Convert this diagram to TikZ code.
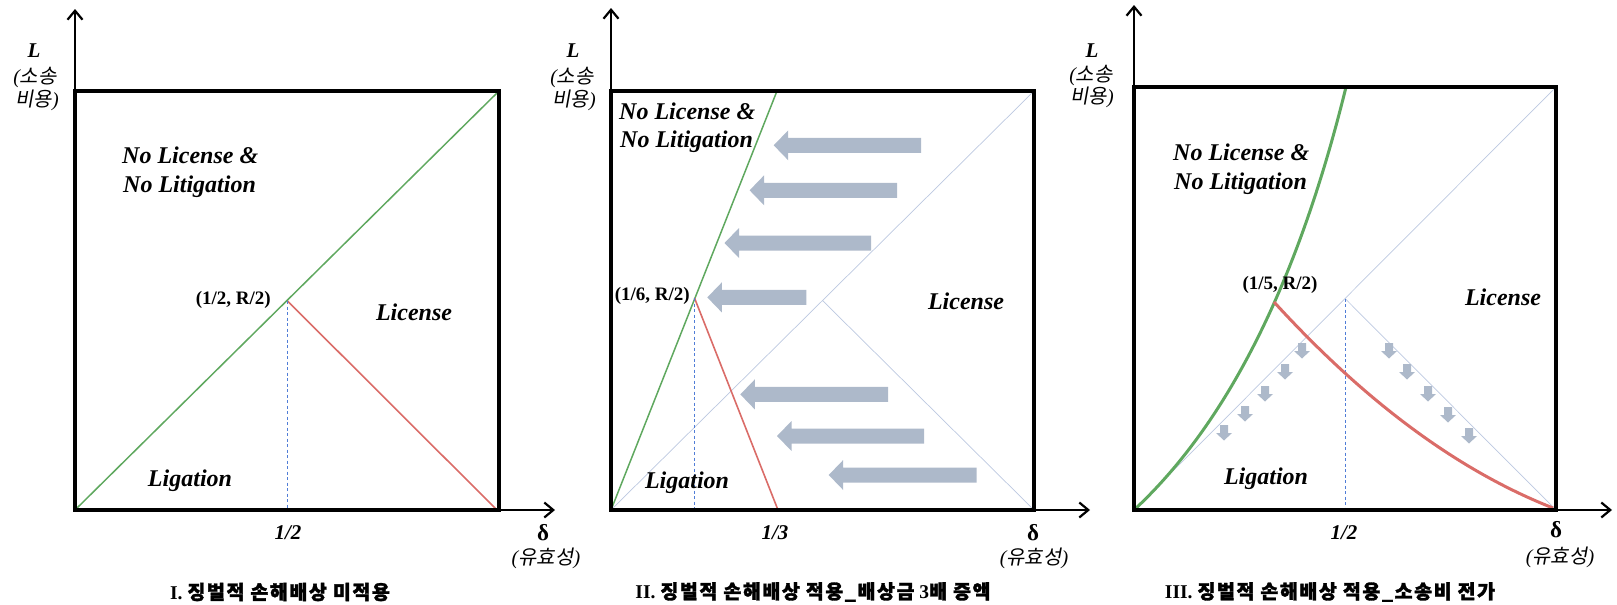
\documentclass[tikz,border=0pt]{standalone}
\usepackage{fontspec}
\setmainfont{Liberation Serif}
\newfontfamily\kr[FakeBold=1.6,LetterSpace=8]{Noto Sans CJK KR}
\newfontfamily\krsl[FakeSlant=0.18]{Noto Sans CJK KR}
\usetikzlibrary{arrows.meta}
\definecolor{lgreen}{RGB}{95,168,95}
\definecolor{lred}{RGB}{218,108,104}
\definecolor{dblue}{RGB}{80,125,215}
\definecolor{faintc}{RGB}{188,200,224}
\definecolor{agray}{RGB}{173,185,202}
\newcommand\lar[3]{\fill[afill] (#1,#2) -- (#1+14.5,#2-15) -- (#1+14.5,#2-7.5) -- (#3,#2-7.5) -- (#3,#2+7.5) -- (#1+14.5,#2+7.5) -- (#1+14.5,#2+15) -- cycle;}
\newcommand\dar[2]{\fill[afill] (#1-4,#2-8) -- (#1+4,#2-8) -- (#1+4,#2) -- (#1+8,#2) -- (#1,#2+7.5) -- (#1-8,#2) -- (#1-4,#2) -- cycle;}
\begin{document}
\begin{tikzpicture}[x=1pt,y=-1pt,
  frame/.style={draw=black,line width=4.4pt},
  axis/.style={draw=black,line width=2.2pt,-{Straight Barb[length=9pt,width=15pt]}},
  gline/.style={draw=lgreen,line width=1.5pt},
  rline/.style={draw=lred,line width=1.6pt},
  gcurve/.style={draw=lgreen,line width=3pt},
  rcurve/.style={draw=lred,line width=3pt},
  faint/.style={draw=faintc,line width=0.7pt},
  bdash/.style={draw=dblue,line width=1pt,dash pattern=on 3pt off 2.5pt},
  afill/.style={fill=agray,draw=none},
  region/.style={font={\fontsize{24}{28}\selectfont\bfseries\itshape},inner sep=0pt},
  ptlab/.style={font={\fontsize{19}{22}\selectfont\bfseries},inner sep=0pt},
  ticklab/.style={font={\fontsize{21}{24}\selectfont\bfseries\itshape},inner sep=0pt},
  ylab/.style={font={\fontsize{20}{24}\selectfont},inner sep=0pt},
  dlab/.style={font={\fontsize{23}{26}\selectfont\bfseries},inner sep=0pt},
  captext/.style={font={\fontsize{19.5}{22}\selectfont\bfseries},inner sep=0pt}
]
\useasboundingbox (0,0) rectangle (1617,605);

% ---------------- Panel I ----------------
\coordinate (P1) at (287.5,301);
\coordinate (BL1) at (75,510);
\coordinate (TR1) at (499,91);
\coordinate (BR1) at (497,510);
\coordinate (M1) at (287.5,510);
\draw[gline] (BL1) -- (TR1);
\draw[rline] (P1) -- (BR1);
\draw[bdash] (P1) -- (M1);
\draw[frame] (75,91) rectangle (499,510);
\draw[axis] (75,91) -- (75,9);
\draw[axis] (499,510) -- (555,510);
\node[region,anchor=base west] (n1a) at (122,163) {No License \&};
\node[region,anchor=base west] (n1b) at (123,192) {No Litigation};
\node[region,anchor=base] (lic1) at (414,320) {License};
\node[region,anchor=base] (lig1) at (190,486) {Ligation};
\node[ptlab,anchor=east] (p1l) at (271,300) {(1/2, R/2)};
\node[ticklab] (t1) at (288,533) {1/2};
\node[dlab] (d1) at (543,533) {δ};
\node[ylab] (d1b) at (546,558) {{\itshape(}{\krsl 유효성}{\itshape)}};
\node[ylab,font={\fontsize{21}{24}\selectfont\bfseries\itshape}] (L1) at (34,51) {L};
\node[ylab] (L1b) at (35,77) {{\itshape(}{\krsl 소송}};
\node[ylab] (L1c) at (37,100) {{\krsl 비용}{\itshape)}};
\node[captext] (c1) at (280,592) {I. {\kr 징벌적 손해배상 미적용}};

% ---------------- Panel II ----------------
\coordinate (P2) at (694.5,298);
\coordinate (BL2) at (611,510);
\coordinate (TR2) at (1034,91);
\coordinate (BR2) at (1034,510);
\coordinate (C2) at (822.5,300.5);
\coordinate (G2t) at (777,91);
\coordinate (R2b) at (778,510);
\coordinate (M2) at (694.5,510);
\draw[faint] (BL2) -- (TR2);
\draw[faint] (C2) -- (BR2);
\lar{773.7}{145.3}{921}
\lar{749.6}{190.3}{897}
\lar{724.5}{243}{871}
\lar{707.3}{297.4}{806.4}
\lar{740.3}{394.4}{888}
\lar{777}{436}{924}
\lar{828.7}{475}{976.7}
\draw[gline] (BL2) -- (G2t);
\draw[rline] (P2) -- (R2b);
\draw[bdash] (P2) -- (M2);
\draw[frame] (611,91) rectangle (1034,510);
\draw[axis] (611,91) -- (611,8);
\draw[axis] (1034,510) -- (1090,510);
\node[region,anchor=base west] (n2a) at (619,119) {No License \&};
\node[region,anchor=base west] (n2b) at (620,147) {No Litigation};
\node[region,anchor=base] (lic2) at (966,309) {License};
\node[region,anchor=base] (lig2) at (687,488) {Ligation};
\node[ptlab,anchor=east] (p2l) at (690,296) {(1/6, R/2)};
\node[ticklab] (t2) at (775,533) {1/3};
\node[dlab] (d2) at (1033,533) {δ};
\node[ylab] (d2b) at (1034,558) {{\itshape(}{\krsl 유효성}{\itshape)}};
\node[ylab,font={\fontsize{21}{24}\selectfont\bfseries\itshape}] (L2) at (573,51) {L};
\node[ylab] (L2b) at (572,77) {{\itshape(}{\krsl 소송}};
\node[ylab] (L2c) at (574,100) {{\krsl 비용}{\itshape)}};
\node[captext] (c2) at (813,592) {II. {\kr 징벌적 손해배상 적용\_배상금} 3{\kr 배 증액}};

% ---------------- Panel III ----------------
\coordinate (P3) at (1274,302);
\coordinate (BL3) at (1134,510);
\coordinate (TR3) at (1556,87);
\coordinate (BR3) at (1556,510);
\coordinate (C3) at (1345,298.5);
\coordinate (G3t) at (1346,87);
\coordinate (R3b) at (1553,508);
\coordinate (M3) at (1345,510);
\draw[faint] (BL3) -- (TR3);
\draw[faint] (C3) -- (BR3);
\dar{1302}{351}\dar{1285}{372}\dar{1265}{394}\dar{1245}{414}\dar{1224}{433}
\dar{1389}{351}\dar{1407}{372}\dar{1428}{394}\dar{1448}{415}\dar{1469}{436}
\draw[bdash] (C3) -- (M3);
\draw[gcurve] (BL3) .. controls (1227.3,423.3) and (1298,282.3) .. (G3t);
\draw[rcurve] (P3) .. controls (1365.3,402) and (1458.3,470.7) .. (R3b);
\draw[frame] (1134,87) rectangle (1556,510);
\draw[axis] (1134,87) -- (1134,5);
\draw[axis] (1556,510) -- (1612,510);
\node[region,anchor=base west] (n3a) at (1173,160) {No License \&};
\node[region,anchor=base west] (n3b) at (1174,189) {No Litigation};
\node[region,anchor=base] (lic3) at (1503,305) {License};
\node[region,anchor=base] (lig3) at (1266,484) {Ligation};
\node[ptlab] (p3l) at (1280,285) {(1/5, R/2)};
\node[ticklab] (t3) at (1344,533) {1/2};
\node[dlab] (d3) at (1556,530) {δ};
\node[ylab] (d3b) at (1560,557) {{\itshape(}{\krsl 유효성}{\itshape)}};
\node[ylab,font={\fontsize{21}{24}\selectfont\bfseries\itshape}] (L3) at (1092,51) {L};
\node[ylab] (L3b) at (1091,75) {{\itshape(}{\krsl 소송}};
\node[ylab] (L3c) at (1092,97) {{\krsl 비용}{\itshape)}};
\node[captext] (c3) at (1330,592) {III. {\kr 징벌적 손해배상 적용\_소송비 전가}};
\end{tikzpicture}
\end{document}
